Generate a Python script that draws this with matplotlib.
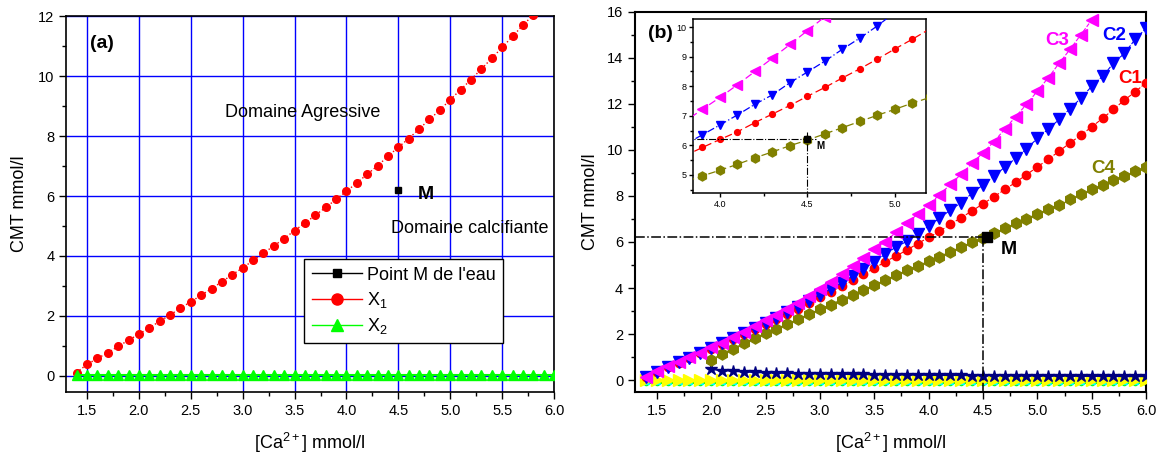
import numpy as np
import matplotlib.pyplot as plt
from matplotlib.lines import Line2D
from matplotlib.ticker import MultipleLocator

plt.rcParams['font.family'] = ['Liberation Sans', 'DejaVu Sans']
plt.rcParams['mathtext.fontset'] = 'custom'
plt.rcParams['mathtext.rm'] = 'Liberation Sans'
plt.rcParams['mathtext.default'] = 'regular'

# ---- data ----
# x grid for the full curves (1.4 .. 6.0 step 0.1)
x_full = [1.4, 1.5, 1.6, 1.7, 1.8, 1.9, 2.0, 2.1, 2.2, 2.3, 2.4, 2.5, 2.6, 2.7, 2.8, 2.9,
          3.0, 3.1, 3.2, 3.3, 3.4, 3.5, 3.6, 3.7, 3.8, 3.9, 4.0, 4.1, 4.2, 4.3, 4.4, 4.5,
          4.6, 4.7, 4.8, 4.9, 5.0, 5.1, 5.2, 5.3, 5.4, 5.5, 5.6, 5.7, 5.8, 5.9, 6.0]
x_from2 = x_full[6:]      # 2.0 .. 6.0
x_c3 = x_full[:42]        # 1.4 .. 5.5

# panel (a)
x1_vals = [0.11, 0.38, 0.58, 0.77, 0.98, 1.19, 1.39, 1.60, 1.82, 2.03, 2.26, 2.47, 2.69, 2.91,
           3.14, 3.38, 3.60, 3.85, 4.09, 4.34, 4.58, 4.85, 5.10, 5.36, 5.62, 5.89, 6.16, 6.44,
           6.73, 7.01, 7.33, 7.63, 7.92, 8.24, 8.56, 8.87, 9.22, 9.55, 9.89, 10.24, 10.60,
           10.96, 11.33, 11.70, 12.05, 12.42, 12.80]
x2_vals = [0.02, 0.02, 0.02, 0.02, 0.02, 0.02, 0.02, 0.02, 0.02, 0.02, 0.02, 0.02, 0.02, 0.02,
           0.02, 0.02, 0.02, 0.02, 0.02, 0.02, 0.02, 0.02, 0.02, 0.02, 0.02, 0.02, 0.02, 0.02,
           0.02, 0.02, 0.02, 0.02, 0.02, 0.02, 0.02, 0.02, 0.02, 0.02, 0.02, 0.02, 0.02, 0.02,
           0.02, 0.02, 0.02, 0.02, 0.02]
point_m = (4.5, 6.2)

# panel (b)
c1 = [0.13, 0.36, 0.57, 0.76, 0.96, 1.16, 1.37, 1.58, 1.80, 2.02, 2.23, 2.45, 2.67, 2.89,
      3.11, 3.36, 3.60, 3.84, 4.07, 4.33, 4.60, 4.85, 5.14, 5.39, 5.65, 5.93, 6.20, 6.46,
      6.77, 7.06, 7.35, 7.66, 7.96, 8.28, 8.59, 8.92, 9.26, 9.59, 9.94, 10.30, 10.64, 11.00,
      11.37, 11.76, 12.16, 12.52, 12.92]
c2 = [0.14, 0.37, 0.58, 0.78, 0.98, 1.19, 1.40, 1.61, 1.83, 2.05, 2.26, 2.48, 2.71, 2.94,
      3.18, 3.44, 3.70, 3.96, 4.23, 4.52, 4.84, 5.14, 5.47, 5.78, 6.03, 6.36, 6.69, 7.03,
      7.39, 7.71, 8.12, 8.48, 8.85, 9.25, 9.63, 10.04, 10.50, 10.90, 11.32, 11.79, 12.24,
      12.76, 13.20, 13.76, 14.19, 14.80, 15.28]
c3 = [0.15, 0.39, 0.60, 0.79, 1.00, 1.20, 1.42, 1.63, 1.86, 2.10, 2.35, 2.60, 2.85, 3.11,
      3.37, 3.67, 3.97, 4.28, 4.61, 4.95, 5.32, 5.68, 6.01, 6.42, 6.81, 7.22, 7.62, 8.05,
      8.50, 8.95, 9.41, 9.88, 10.35, 10.90, 11.44, 11.98, 12.55, 13.13, 13.76, 14.36, 15.00,
      15.64]
c4 = [0.89, 1.15, 1.36, 1.60, 1.84, 2.03, 2.23, 2.44, 2.65, 2.87, 3.07, 3.28, 3.50, 3.70,
      3.90, 4.13, 4.34, 4.56, 4.77, 4.97, 5.16, 5.36, 5.58, 5.78, 5.99, 6.18, 6.39, 6.60,
      6.81, 7.02, 7.22, 7.43, 7.62, 7.85, 8.07, 8.28, 8.48, 8.69, 8.88, 9.07, 9.27]
stars = [0.47, 0.42, 0.39, 0.36, 0.34, 0.32, 0.31, 0.30, 0.29, 0.28, 0.27, 0.26, 0.26, 0.25,
         0.25, 0.24, 0.24, 0.23, 0.23, 0.22, 0.22, 0.21, 0.21, 0.21, 0.20, 0.20, 0.20, 0.19,
         0.19, 0.19, 0.18, 0.18, 0.18, 0.18, 0.17, 0.17, 0.17, 0.17, 0.16, 0.16, 0.16]
yellow = [0.0, 0.0, 0.0, 0.0, 0.0, 0.0, 0.0, 0.0, 0.0, 0.0, 0.0, 0.0, 0.0, 0.0, 0.0, 0.0,
          0.0, 0.0, 0.0, 0.0, 0.0, 0.0, 0.0, 0.0, 0.0, 0.0, 0.0, 0.0, 0.0, 0.0, 0.0, 0.0,
          0.0, 0.0, 0.0, 0.0, 0.0, 0.0, 0.0, 0.0, 0.0, 0.0, 0.0, 0.0, 0.0, 0.0, 0.0]
cyan = [-0.05, -0.05, -0.05, -0.05, -0.05, -0.05, -0.05, -0.05, -0.05, -0.05, -0.05, -0.05,
        -0.05, -0.05, -0.05, -0.05, -0.05, -0.05, -0.05, -0.05, -0.05, -0.05, -0.05, -0.05,
        -0.05, -0.05, -0.05, -0.05, -0.05, -0.05, -0.05, -0.05, -0.05, -0.05, -0.05, -0.05,
        -0.05, -0.05, -0.05, -0.05, -0.05, -0.05, -0.05, -0.05, -0.05, -0.05, -0.05]
green = [-0.11, -0.11, -0.11, -0.11, -0.11, -0.11, -0.11, -0.11, -0.11, -0.11, -0.11, -0.11,
         -0.11, -0.11, -0.11, -0.11, -0.11, -0.11, -0.11, -0.11, -0.11, -0.11, -0.11, -0.11,
         -0.11, -0.11, -0.11, -0.11, -0.11, -0.11, -0.11, -0.11, -0.11, -0.11, -0.11, -0.11,
         -0.11, -0.11, -0.11, -0.11, -0.11, -0.11, -0.11, -0.11, -0.11, -0.11, -0.11]
point_mb = (4.54, 6.2)

MAG, BLU, RED, OLV = '#ff00ff', '#0000ff', '#ff0000', '#808000'

fig = plt.figure(figsize=(11.62, 4.57), dpi=100)
ax1 = fig.add_axes([0.057, 0.1429, 0.4198, 0.8214])
ax2 = fig.add_axes([0.5465, 0.1429, 0.4398, 0.8315])
ax3 = fig.add_axes([0.5967, 0.577, 0.2006, 0.3807])


def style(ax, lw=1.2, size=10.5, major=5, minor=3):
    for s in ax.spines.values():
        s.set_linewidth(lw)
    ax.tick_params(which='both', direction='out', top=False, right=False, width=1)
    ax.tick_params(which='major', length=major, labelsize=size)
    ax.tick_params(which='minor', length=minor)


# ---------------- panel (a) ----------------
ax1.plot(x_full, x1_vals, ls=':', color=RED, lw=1, marker='o', ms=5.5, mec=RED, zorder=3)
ax1.plot(x_full, x2_vals, ls='-', color='#00ff00', lw=1.5, marker='^', ms=7, mec='#00ff00', zorder=3)
ax1.plot([point_m[0]], [point_m[1]], 's', color='black', ms=5, zorder=4)
ax1.set_xlim(1.3, 6.0)
ax1.set_ylim(-0.53, 12)
ax1.xaxis.set_major_locator(MultipleLocator(0.5))
ax1.xaxis.set_minor_locator(MultipleLocator(0.25))
ax1.yaxis.set_major_locator(MultipleLocator(2))
ax1.yaxis.set_minor_locator(MultipleLocator(1))
ax1.grid(True, which='major', color='#0000ff', lw=1)
ax1.set_axisbelow(True)
style(ax1)
ax1.set_xlabel('[Ca$^{2+}$] mmol/l', fontsize=13, labelpad=10)
ax1.set_ylabel('CMT mmol/l', fontsize=13, labelpad=7)
ax1.text(1.64, 11.1, '(a)', fontsize=14, fontweight='bold', ha='center', va='center')
ax1.text(4.76, 6.05, 'M', fontsize=14, fontweight='bold', ha='center', va='center')
ax1.text(3.58, 8.78, 'Domaine Agressive', fontsize=13, ha='center', va='center')
ax1.text(5.19, 4.93, 'Domaine calcifiante', fontsize=13, ha='center', va='center')

handles = [Line2D([], [], color='black', marker='s', ms=6, lw=1),
           Line2D([], [], color=RED, marker='o', ms=8, lw=1),
           Line2D([], [], color='#00ff00', marker='^', ms=9, lw=1)]
leg = ax1.legend(handles, ["Point M de l'eau", 'X$_1$', 'X$_2$'], loc='upper left',
                 bbox_to_anchor=(0.488, 0.3527), borderaxespad=0, fontsize=13,
                 fancybox=False, edgecolor='black', framealpha=1, handlelength=2.8,
                 labelspacing=0.35, handletextpad=0.3, borderpad=0.4)
leg.get_frame().set_linewidth(1)

# ---------------- panel (b) ----------------
ax2.plot(x_full, green, color='#00ff00', lw=1.5, marker='o', ms=3, zorder=2)
ax2.plot(x_full, cyan, color='#00ffff', lw=1, ls='none', marker='^', ms=5, zorder=2)
ax2.plot(x_full, yellow, color='#ffff00', ls='none', marker='>', ms=8, zorder=3)
ax2.plot(x_from2, stars, color='#000080', lw=1, marker='*', ms=9, zorder=3)
ax2.plot(x_from2, c4, color=OLV, ls='--', lw=0.8, marker='h', ms=8, zorder=3)
ax2.plot(x_full, c1, color=RED, ls='--', lw=0.8, marker='o', ms=6, zorder=3)
ax2.plot(x_full, c2, color=BLU, ls='--', lw=0.8, marker='v', ms=8, zorder=4)
ax2.plot(x_c3, c3, color=MAG, ls='--', lw=0.8, marker='<', ms=8.5, zorder=5)
ax2.plot([1.3, 4.58], [6.2, 6.2], color='black', ls='-.', lw=1.1, zorder=6)
ax2.plot([4.5, 4.5], [6.2, -0.6], color='black', ls='-.', lw=1.1, zorder=6)
ax2.plot([point_mb[0]], [point_mb[1]], 's', color='black', ms=7.5, zorder=7)
ax2.set_xlim(1.3, 6.0)
ax2.set_ylim(-0.5, 16)
ax2.xaxis.set_major_locator(MultipleLocator(0.5))
ax2.xaxis.set_minor_locator(MultipleLocator(0.25))
ax2.yaxis.set_major_locator(MultipleLocator(2))
ax2.yaxis.set_minor_locator(MultipleLocator(1))
style(ax2, lw=1.5)
ax2.set_xlabel('[Ca$^{2+}$] mmol/l', fontsize=13, labelpad=10)
ax2.set_ylabel('CMT mmol/l', fontsize=13, labelpad=6)
ax2.text(1.53, 15.07, '(b)', fontsize=14, fontweight='bold', ha='center', va='center')
ax2.text(4.74, 5.69, 'M', fontsize=14, fontweight='bold', ha='center', va='center')
ax2.text(5.18, 14.77, 'C3', fontsize=13.5, fontweight='bold', color=MAG, ha='center', va='center')
ax2.text(5.71, 14.96, 'C2', fontsize=13.5, fontweight='bold', color=BLU, ha='center', va='center')
ax2.text(5.85, 13.1, 'C1', fontsize=13.5, fontweight='bold', color=RED, ha='center', va='center')
ax2.text(5.61, 9.2, 'C4', fontsize=13.5, fontweight='bold', color=OLV, ha='center', va='center')

# ---------------- inset ----------------
ax3.plot(x_from2, c4, color=OLV, ls=(0, (6, 3)), lw=0.9, marker='h', ms=6.5, zorder=3)
ax3.plot(x_full, c1, color=RED, ls=(0, (6, 3)), lw=0.9, marker='o', ms=4.2, zorder=3)
ax3.plot(x_full, c2, color=BLU, ls=(0, (6, 2, 1, 2)), lw=0.9, marker='v', ms=6, zorder=3)
ax3.plot(x_c3, c3, color=MAG, ls=(0, (6, 3)), lw=0.9, marker='<', ms=6.5, zorder=3)
ax3.plot([3.8, 4.55], [6.2, 6.2], color='black', ls='-.', lw=0.8, zorder=4)
ax3.plot([4.5, 4.5], [6.46, 4.3], color='black', ls='-.', lw=0.8, zorder=4)
ax3.plot([point_m[0]], [point_m[1]], 's', color='black', ms=4, zorder=5)
ax3.text(4.55, 5.97, 'M', fontsize=7, fontweight='bold', ha='left', va='center')
ax3.set_xlim(3.848, 5.18)
ax3.set_ylim(4.38, 10.26)
ax3.xaxis.set_major_locator(MultipleLocator(0.5))
ax3.xaxis.set_minor_locator(MultipleLocator(0.25))
ax3.yaxis.set_major_locator(MultipleLocator(1))
ax3.yaxis.set_minor_locator(MultipleLocator(0.5))
style(ax3, lw=1.1, size=6.5, major=3, minor=2)
ax3.tick_params(which='both', pad=2)

fig.savefig('out.png', dpi=100)
